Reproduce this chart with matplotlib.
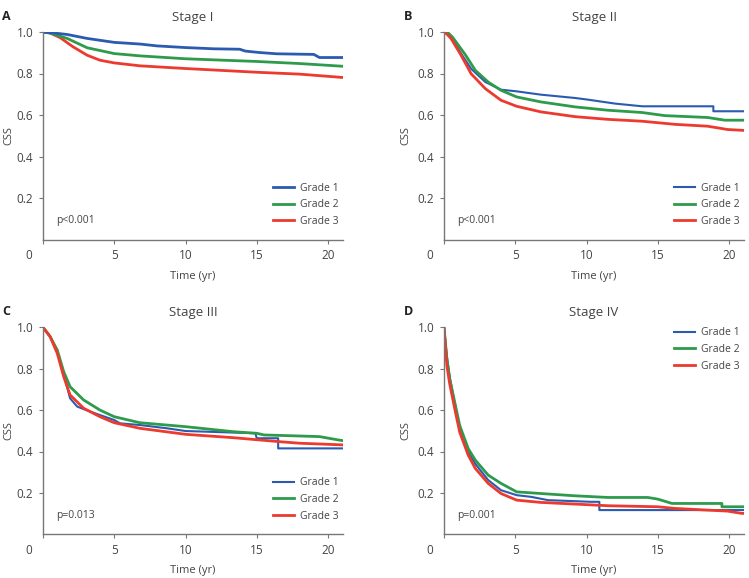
import matplotlib
matplotlib.use("Agg")
import matplotlib.pyplot as plt

plt.rcParams['font.family'] = ['Open Sans', 'DejaVu Sans']

stages = ["Stage I", "Stage II", "Stage III", "Stage IV"]
letters = ["A", "B", "C", "D"]
pvals = ["p<0.001", "p<0.001", "p=0.013", "p=0.001"]
grades = ["Grade 1", "Grade 2", "Grade 3"]
colors = ["#2b5bb0", "#2e9b4c", "#ec3a2e"]

# Stage I
a_g1_t = [0, 0.8, 1.7, 3.1, 5.0, 6.8, 8.0, 10.0, 12.0, 13.8, 14.2, 15.2, 16.4, 19.0, 19.4, 21.0]
a_g1_s = [1.0, 0.995, 0.988, 0.969, 0.950, 0.942, 0.933, 0.925, 0.919, 0.917, 0.908, 0.901, 0.895, 0.892, 0.877, 0.877]
a_g2_t = [0, 0.5, 1.7, 3.1, 5.0, 6.8, 10.0, 15.0, 18.0, 21.0]
a_g2_s = [1.0, 0.995, 0.969, 0.924, 0.896, 0.885, 0.871, 0.858, 0.848, 0.835]
a_g3_t = [0, 0.5, 1.2, 2.1, 3.1, 4.0, 5.0, 6.8, 10.0, 15.0, 18.0, 21.0]
a_g3_s = [1.0, 0.995, 0.973, 0.929, 0.888, 0.864, 0.851, 0.837, 0.824, 0.806, 0.797, 0.781]

# Stage II
b_g1_t = [0, 0.3, 0.8, 1.2, 1.9, 2.9, 4.0, 5.1, 6.8, 9.2, 10.1, 12.0, 13.9, 18.9, 18.9, 21.0]
b_g1_s = [1.0, 0.99, 0.944, 0.896, 0.823, 0.759, 0.722, 0.714, 0.698, 0.682, 0.674, 0.655, 0.642, 0.642, 0.618, 0.618]
b_g2_t = [0, 0.3, 0.6, 1.5, 2.2, 3.1, 4.0, 5.1, 6.8, 9.2, 11.5, 13.9, 15.5, 18.5, 19.7, 21.0]
b_g2_s = [1.0, 0.995, 0.975, 0.890, 0.815, 0.759, 0.719, 0.687, 0.663, 0.639, 0.623, 0.612, 0.597, 0.588, 0.575, 0.575]
b_g3_t = [0, 0.2, 0.5, 1.2, 1.9, 2.9, 4.0, 5.1, 6.8, 9.2, 11.5, 13.9, 16.2, 18.5, 19.9, 21.0]
b_g3_s = [1.0, 0.99, 0.968, 0.888, 0.799, 0.727, 0.671, 0.642, 0.615, 0.592, 0.579, 0.570, 0.555, 0.546, 0.530, 0.526]

# Stage III
c_g1_t = [0, 0.5, 1.0, 1.45, 1.9, 2.4, 3.3, 5.0, 5.4, 6.8, 8.7, 10.0, 14.9, 15.0, 16.5, 16.5, 21.0]
c_g1_s = [1.0, 0.955, 0.885, 0.775, 0.657, 0.617, 0.593, 0.552, 0.536, 0.528, 0.512, 0.499, 0.488, 0.464, 0.464, 0.415, 0.415]
c_g2_t = [0, 0.5, 1.0, 1.45, 1.9, 2.85, 4.0, 5.0, 6.8, 10.0, 13.3, 15.0, 15.5, 19.4, 20.7, 21.0]
c_g2_s = [1.0, 0.955, 0.890, 0.786, 0.713, 0.649, 0.600, 0.568, 0.539, 0.520, 0.496, 0.488, 0.480, 0.472, 0.456, 0.453]
c_g3_t = [0, 0.5, 1.0, 1.45, 1.9, 2.85, 4.0, 5.0, 6.8, 10.0, 13.3, 16.5, 18.0, 21.0]
c_g3_s = [1.0, 0.955, 0.874, 0.762, 0.673, 0.609, 0.568, 0.539, 0.512, 0.483, 0.467, 0.448, 0.440, 0.432]

# Stage IV
d_g1_t = [0, 0.2, 0.4, 0.8, 1.1, 1.7, 2.2, 3.1, 4.0, 5.1, 6.1, 7.3, 10.3, 10.9, 10.9, 21.0]
d_g1_s = [1.0, 0.862, 0.760, 0.615, 0.515, 0.398, 0.340, 0.262, 0.213, 0.189, 0.181, 0.165, 0.157, 0.157, 0.117, 0.117]
d_g2_t = [0, 0.2, 0.4, 0.8, 1.1, 1.7, 2.2, 3.1, 4.0, 5.1, 6.8, 9.2, 11.5, 14.3, 15.0, 16.0, 19.5, 19.5, 21.0]
d_g2_s = [1.0, 0.847, 0.751, 0.623, 0.526, 0.414, 0.358, 0.286, 0.246, 0.205, 0.197, 0.186, 0.178, 0.178, 0.170, 0.149, 0.149, 0.133, 0.133]
d_g3_t = [0, 0.2, 0.4, 0.8, 1.1, 1.7, 2.2, 3.1, 4.0, 5.1, 6.8, 9.2, 11.5, 15.0, 16.2, 19.9, 20.9, 21.0]
d_g3_s = [1.0, 0.815, 0.727, 0.591, 0.494, 0.382, 0.318, 0.246, 0.197, 0.165, 0.154, 0.146, 0.138, 0.133, 0.125, 0.112, 0.101, 0.101]

panels = [
    [(a_g1_t, a_g1_s), (a_g2_t, a_g2_s), (a_g3_t, a_g3_s)],
    [(b_g1_t, b_g1_s), (b_g2_t, b_g2_s), (b_g3_t, b_g3_s)],
    [(c_g1_t, c_g1_s), (c_g2_t, c_g2_s), (c_g3_t, c_g3_s)],
    [(d_g1_t, d_g1_s), (d_g2_t, d_g2_s), (d_g3_t, d_g3_s)],
]

W, H = 749, 578
fig = plt.figure(figsize=(W / 100, H / 100), dpi=100)

boxes = [
    (43, 343, 32, 239.5),
    (444, 744, 32, 239.5),
    (43, 343, 327.3, 534.3),
    (444, 744, 327.3, 534.3),
]
txt = "#444444"
for i, (x0, x1, y0, y1) in enumerate(boxes):
    ax = fig.add_axes([x0 / W, 1 - y1 / H, (x1 - x0) / W, (y1 - y0) / H])
    order = [0, 1, 2] if i != 0 else [2, 1, 0]
    handles = [None] * 3
    for k in order:
        t, s = panels[i][k]
        lw = 1.5 if (i >= 1 and k == 0) else 2.0
        handles[k], = ax.plot(t, s, color=colors[k], lw=lw, label=grades[k])
    ax.set_xlim(0, 21.05)
    ax.set_ylim(0, 1.0)
    ax.set_xticks([0, 5, 10, 15, 20])
    ax.set_xticklabels(["", "5", "10", "15", "20"])
    ax.set_yticks([0.2, 0.4, 0.6, 0.8, 1.0])
    ax.set_yticklabels(["0.2", "0.4", "0.6", "0.8", "1.0"])
    ax.text(-0.035, -0.045, "0", transform=ax.transAxes, ha="right", va="top",
            fontsize=8.5, color=txt)
    for sp in ["top", "right"]:
        ax.spines[sp].set_visible(False)
    for sp in ["left", "bottom"]:
        ax.spines[sp].set_color("#777777")
        ax.spines[sp].set_linewidth(1.0)
    ax.tick_params(axis="both", direction="out", length=3, width=0.8,
                   color="#777777", labelsize=8.5, labelcolor=txt, pad=4)
    ax.set_xlabel("Time (yr)", fontsize=8, color=txt, labelpad=6)
    ax.set_ylabel("CSS", fontsize=8, color=txt)
    lx = -0.097 if i in (0, 2) else -0.11
    ax.yaxis.set_label_coords(lx, 0.5)
    ax.set_title(stages[i], fontsize=9.5, color=txt, pad=8)
    ax.text(-0.135, 1.075, letters[i], transform=ax.transAxes, fontsize=9,
            fontweight="bold", color="#222222", ha="left", va="center")
    ax.text(0.045, 0.09, pvals[i], transform=ax.transAxes, fontsize=7.5,
            color=txt, ha="left", va="center")
    loc = "upper right" if i == 3 else "lower right"
    anchor = (1.0, 1.02) if i == 3 else (1.0, 0.04)
    leg = ax.legend(handles=handles, loc=loc, bbox_to_anchor=anchor, frameon=False,
                    fontsize=7.5, handlelength=2.0, handletextpad=0.6,
                    labelspacing=0.55, borderaxespad=0.0)
    for t_ in leg.get_texts():
        t_.set_color(txt)

fig.savefig("out.png", dpi=100)
